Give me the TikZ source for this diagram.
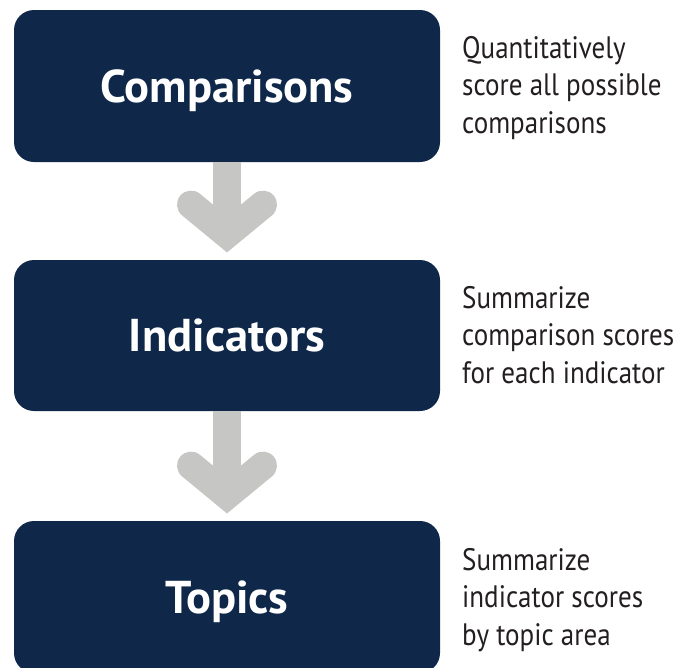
\documentclass[tikz,border=0pt]{standalone}
\usepackage{fontspec}
\setmainfont{PT Sans}
\newfontfamily\titlefont{PT Sans}[FakeStretch=1.01]
\newfontfamily\descfont{PT Sans}[FakeStretch=0.872]
\usetikzlibrary{calc}
\definecolor{navy}{HTML}{0F2849}
\definecolor{arrowgray}{HTML}{C6C6C5}
\definecolor{desctext}{HTML}{231F20}
\tikzset{
  stepbox/.style={fill=navy, rounded corners=20pt, minimum width=426pt,
    minimum height=152pt, inner sep=0pt, text=white,
    font=\titlefont\bfseries\fontsize{46}{46}\selectfont,
    text height=32pt, text depth=0pt},
  shaft/.style={draw=arrowgray, line width=28pt},
  chevron/.style={draw=arrowgray, line width=28pt, line cap=round, miter limit=10},
  desc/.style={anchor=base west, align=left, inner sep=0pt, text=desctext,
    font=\descfont\fontsize{31}{37.5}\selectfont},
}
\begin{document}
\begin{tikzpicture}[x=1pt,y=-1pt]
\useasboundingbox (0,0) rectangle (695,667);
\node[stepbox] (c) at (227,86) {Comparisons};
\node[stepbox, minimum height=151pt] (i) at (227,335.5) {Indicators};
\node[stepbox] (t) at (227,597) {Topics};
\node[desc] (dc) at (462,133) {Quantitatively\\score all possible\\comparisons};
\node[desc] (di) at (462,383) {Summarize\\comparison scores\\for each indicator};
\node[desc] (dt) at (462,645) {Summarize\\indicator scores\\by topic area};
\coordinate (v1) at ($(i.north)+(0,-25.5)$);
\coordinate (v2) at ($(t.north)+(0,-25.5)$);
\draw[shaft] (c.south) -- (v1);
\draw[chevron] ($(v1)+(-36,-29.7)$) -- (v1) -- ($(v1)+(36,-29.7)$);
\draw[shaft] (i.south) -- (v2);
\draw[chevron] ($(v2)+(-36,-29.7)$) -- (v2) -- ($(v2)+(36,-29.7)$);
\end{tikzpicture}
\end{document}
